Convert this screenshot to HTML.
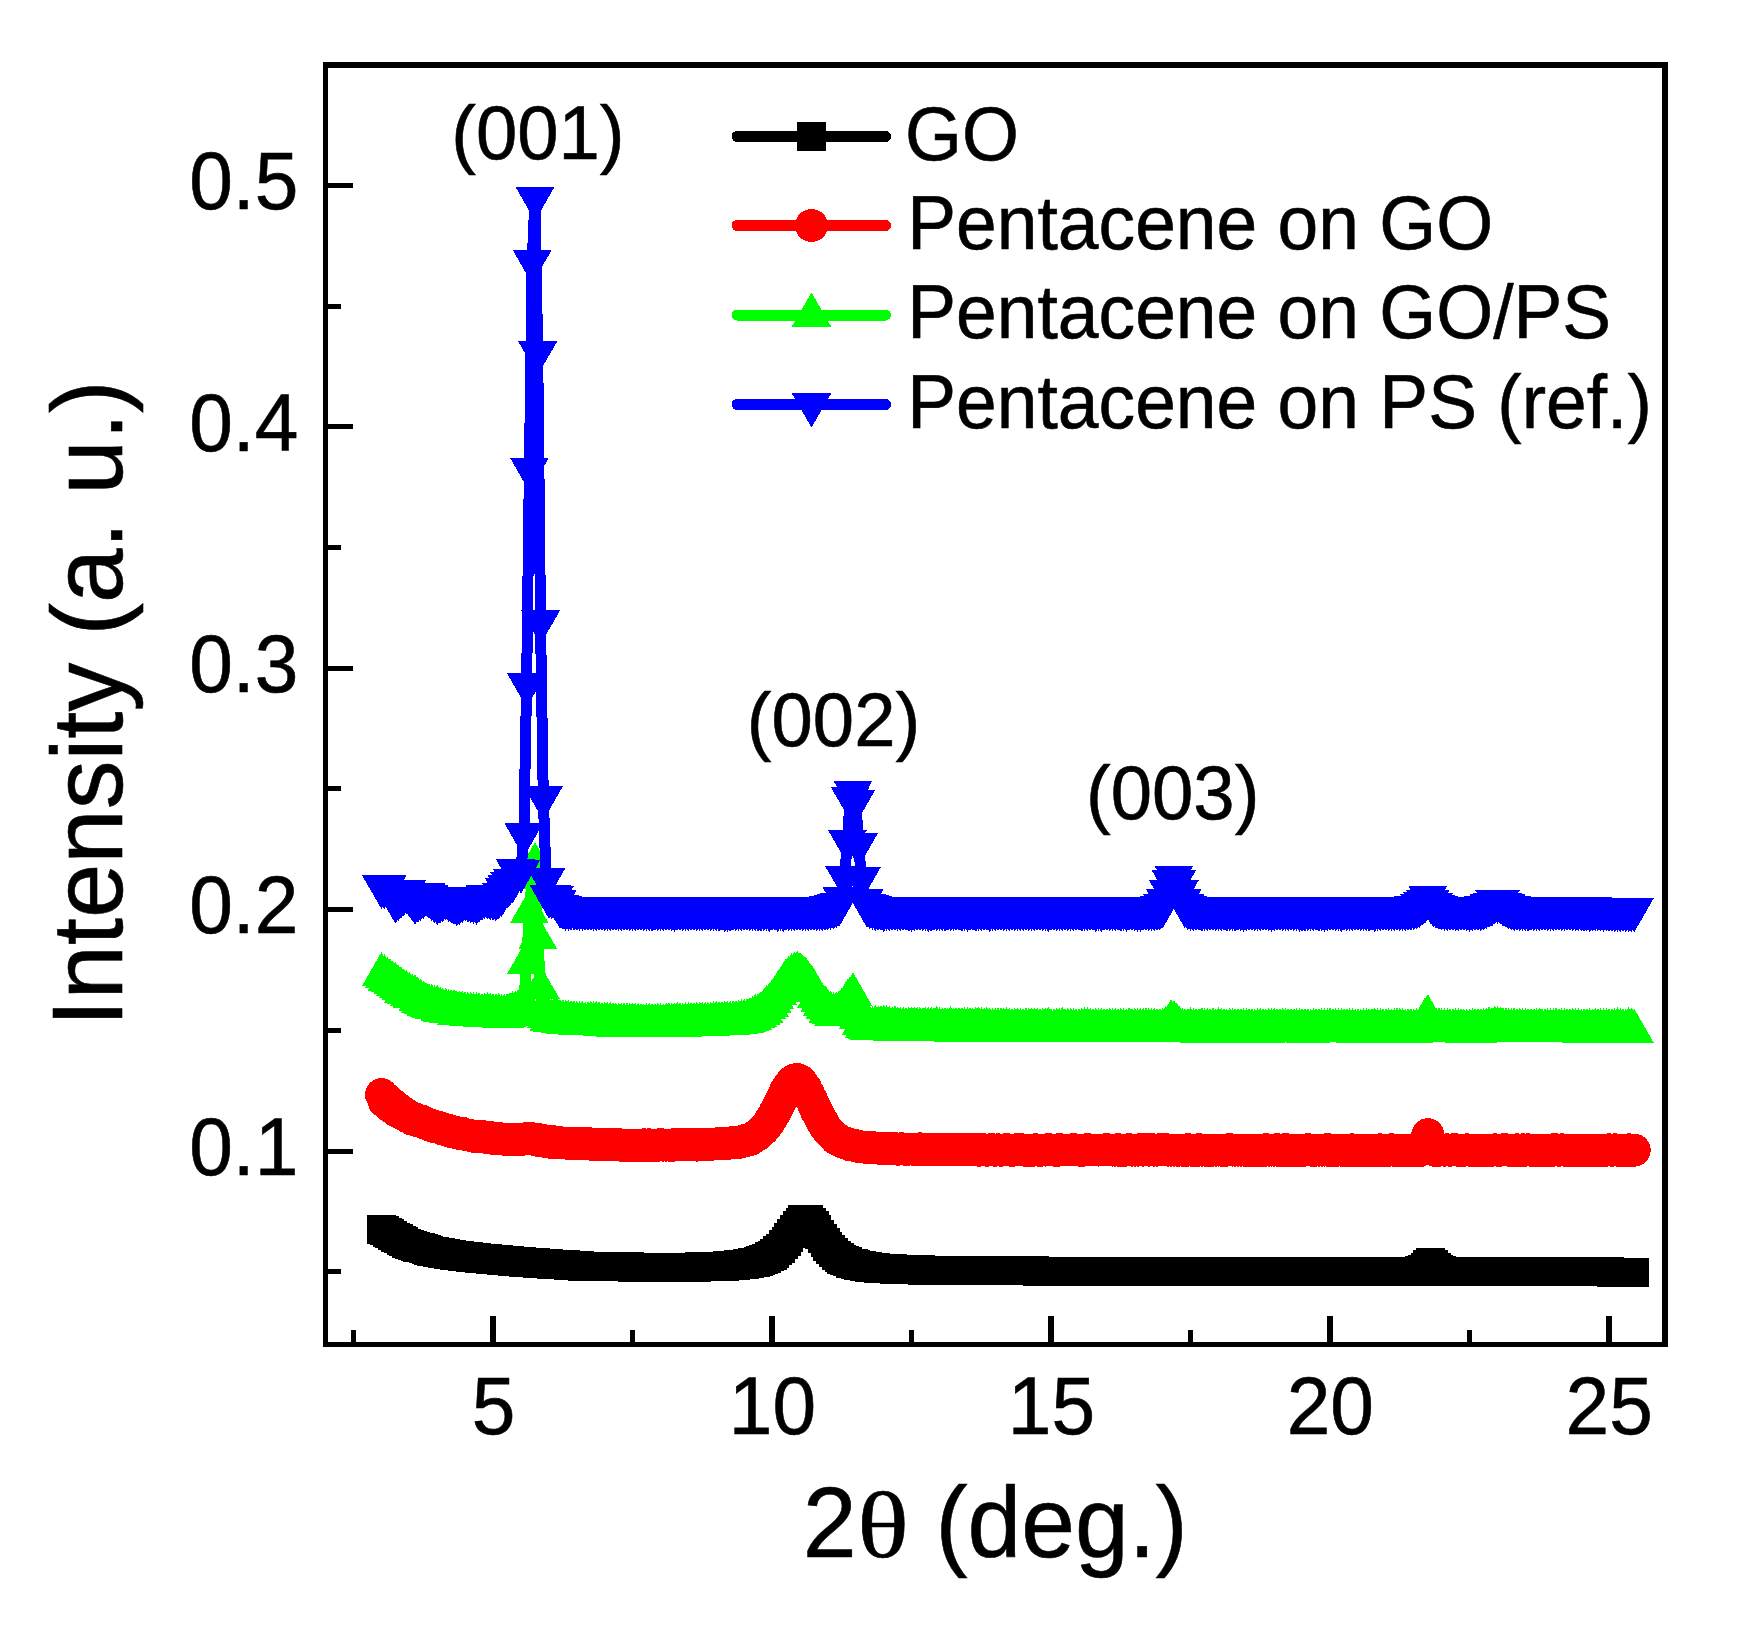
<!DOCTYPE html>
<html><head><meta charset="utf-8"><title>XRD</title>
<style>html,body{margin:0;padding:0;background:#fff}svg{display:block}</style></head>
<body>
<svg width="1750" height="1628" viewBox="0 0 1750 1628">
<defs>
<marker id="mk" markerUnits="userSpaceOnUse" markerWidth="29" markerHeight="29" refX="14.5" refY="14.5" orient="0"><rect width="29" height="29" fill="#000" shape-rendering="crispEdges"/></marker>
<marker id="mr" markerUnits="userSpaceOnUse" markerWidth="33.0" markerHeight="33.0" refX="16.5" refY="16.5" orient="0"><circle cx="16.5" cy="16.5" r="16.5" fill="#f00" shape-rendering="crispEdges"/></marker>
<marker id="mg" markerUnits="userSpaceOnUse" markerWidth="39" markerHeight="34" refX="19.5" refY="22.67" orient="0"><path d="M0 34L19.5 0L39 34Z" fill="#0f0" shape-rendering="crispEdges"/></marker>
<marker id="mb" markerUnits="userSpaceOnUse" markerWidth="39" markerHeight="34" refX="19.5" refY="11.33" orient="0"><path d="M0 0L39 0L19.5 34Z" fill="#00f" shape-rendering="crispEdges"/></marker>
</defs>
<rect width="1750" height="1628" fill="#fff"/>
<g fill="none" stroke-linejoin="round" stroke-linecap="round" shape-rendering="crispEdges" stroke-width="11">
<polyline points="381.5,1229.9 384.3,1230.8 387.1,1232.4 389.9,1233.9 392.7,1235.5 395.4,1237.0 398.2,1238.5 401.0,1240.0 403.8,1241.5 406.6,1243.0 409.4,1244.5 412.2,1245.4 415.0,1246.3 417.8,1247.1 420.6,1247.9 423.4,1248.8 426.1,1249.6 428.9,1250.4 431.7,1251.1 434.5,1251.6 437.3,1252.1 440.1,1252.6 442.9,1253.2 445.7,1253.7 448.5,1254.2 451.2,1254.7 454.0,1255.2 456.8,1255.5 459.6,1255.9 462.4,1256.2 465.2,1256.5 468.0,1256.9 470.8,1257.2 473.6,1257.6 476.4,1257.8 479.1,1258.1 481.9,1258.3 484.7,1258.6 487.5,1258.8 490.3,1259.1 493.1,1259.3 495.9,1259.6 498.7,1259.8 501.5,1260.1 504.3,1260.3 507.1,1260.6 509.8,1260.8 512.6,1261.1 515.4,1261.3 518.2,1261.6 521.0,1261.8 523.8,1262.1 526.6,1262.3 529.4,1262.5 532.2,1262.7 535.0,1262.8 537.7,1263.0 540.5,1263.2 543.3,1263.4 546.1,1263.6 548.9,1263.8 551.7,1264.0 554.5,1264.2 557.3,1264.4 560.1,1264.6 562.9,1264.7 565.6,1264.9 568.4,1265.1 571.2,1265.3 574.0,1265.5 576.8,1265.7 579.6,1265.9 582.4,1266.1 585.2,1266.2 588.0,1266.4 590.8,1266.5 593.5,1266.6 596.3,1266.6 599.1,1266.6 601.9,1266.7 604.7,1266.7 607.5,1266.7 610.3,1266.7 613.1,1266.8 615.9,1266.8 618.6,1266.8 621.4,1266.9 624.2,1266.9 627.0,1266.9 629.8,1266.9 632.6,1267.0 635.4,1267.0 638.2,1267.0 641.0,1267.0 643.8,1267.1 646.5,1267.1 649.3,1267.1 652.1,1267.1 654.9,1267.1 657.7,1267.1 660.5,1267.2 663.3,1267.2 666.1,1267.2 668.9,1267.2 671.7,1267.2 674.5,1267.2 677.2,1267.2 680.0,1267.2 682.8,1267.2 685.6,1267.2 688.4,1267.2 691.2,1267.1 694.0,1267.1 696.8,1267.0 699.6,1266.9 702.4,1266.9 705.1,1266.8 707.9,1266.7 710.7,1266.6 713.5,1266.5 716.3,1266.4 719.1,1266.3 721.9,1266.1 724.7,1266.0 727.5,1265.8 730.2,1265.6 733.0,1265.4 735.8,1265.2 738.6,1264.9 741.4,1264.6 744.2,1264.3 747.0,1263.9 749.8,1263.4 752.6,1262.9 755.4,1262.2 758.1,1261.5 760.9,1260.6 763.7,1259.6 766.5,1258.4 769.3,1256.9 772.1,1255.2 774.9,1253.1 777.7,1250.8 780.5,1248.0 783.3,1244.8 786.0,1241.3 788.8,1237.4 791.6,1233.3 794.4,1229.1 797.2,1225.2 800.0,1222.0 802.8,1219.7 805.6,1219.0 808.4,1219.8 811.2,1222.1 814.0,1225.5 816.7,1229.6 819.5,1234.0 822.3,1238.3 825.1,1242.4 827.9,1246.2 830.7,1249.5 833.5,1252.5 836.3,1255.0 839.1,1257.2 841.9,1259.0 844.6,1260.6 847.4,1261.9 850.2,1263.0 853.0,1263.9 855.8,1264.7 858.6,1265.3 861.4,1265.9 864.2,1266.3 867.0,1266.8 869.8,1267.1 872.5,1267.4 875.3,1267.7 878.1,1268.0 880.9,1268.2 883.7,1268.4 886.5,1268.6 889.3,1268.8 892.1,1268.9 894.9,1269.1 897.6,1269.2 900.4,1269.3 903.2,1269.4 906.0,1269.5 908.8,1269.6 911.6,1269.7 914.4,1269.8 917.2,1269.8 920.0,1269.9 922.8,1270.0 925.5,1270.0 928.3,1270.1 931.1,1270.1 933.9,1270.2 936.7,1270.2 939.5,1270.3 942.3,1270.3 945.1,1270.4 947.9,1270.4 950.7,1270.4 953.5,1270.5 956.2,1270.5 959.0,1270.5 961.8,1270.5 964.6,1270.6 967.4,1270.6 970.2,1270.6 973.0,1270.6 975.8,1270.7 978.6,1270.7 981.4,1270.7 984.1,1270.7 986.9,1270.7 989.7,1270.7 992.5,1270.8 995.3,1270.8 998.1,1270.8 1000.9,1270.8 1003.7,1270.8 1006.5,1270.8 1009.2,1270.8 1012.0,1270.9 1014.8,1270.9 1017.6,1270.9 1020.4,1270.9 1023.2,1270.9 1026.0,1270.9 1028.8,1270.9 1031.6,1270.9 1034.4,1270.9 1037.2,1271.0 1039.9,1271.0 1042.7,1271.0 1045.5,1271.0 1048.3,1271.0 1051.1,1271.0 1053.9,1271.0 1056.7,1271.0 1059.5,1271.0 1062.3,1271.0 1065.0,1271.0 1067.8,1271.0 1070.6,1271.0 1073.4,1271.0 1076.2,1271.0 1079.0,1271.0 1081.8,1271.1 1084.6,1271.1 1087.4,1271.1 1090.2,1271.1 1093.0,1271.1 1095.7,1271.1 1098.5,1271.1 1101.3,1271.1 1104.1,1271.1 1106.9,1271.1 1109.7,1271.1 1112.5,1271.1 1115.3,1271.1 1118.1,1271.1 1120.8,1271.1 1123.6,1271.1 1126.4,1271.1 1129.2,1271.1 1132.0,1271.1 1134.8,1271.1 1137.6,1271.1 1140.4,1271.1 1143.2,1271.1 1146.0,1271.1 1148.8,1271.1 1151.5,1271.1 1154.3,1271.1 1157.1,1271.1 1159.9,1271.2 1162.7,1271.2 1165.5,1271.2 1168.3,1271.2 1171.1,1271.2 1173.9,1271.2 1176.7,1271.2 1179.4,1271.2 1182.2,1271.2 1185.0,1271.2 1187.8,1271.2 1190.6,1271.2 1193.4,1271.2 1196.2,1271.2 1199.0,1271.2 1201.8,1271.2 1204.5,1271.2 1207.3,1271.2 1210.1,1271.2 1212.9,1271.2 1215.7,1271.2 1218.5,1271.2 1221.3,1271.2 1224.1,1271.2 1226.9,1271.2 1229.7,1271.2 1232.5,1271.2 1235.2,1271.2 1238.0,1271.2 1240.8,1271.2 1243.6,1271.2 1246.4,1271.2 1249.2,1271.2 1252.0,1271.2 1254.8,1271.2 1257.6,1271.2 1260.3,1271.2 1263.1,1271.2 1265.9,1271.2 1268.7,1271.2 1271.5,1271.2 1274.3,1271.2 1277.1,1271.2 1279.9,1271.2 1282.7,1271.2 1285.5,1271.2 1288.2,1271.2 1291.0,1271.2 1293.8,1271.2 1296.6,1271.2 1299.4,1271.2 1302.2,1271.2 1305.0,1271.2 1307.8,1271.2 1310.6,1271.2 1313.4,1271.2 1316.2,1271.2 1318.9,1271.2 1321.7,1271.2 1324.5,1271.2 1327.3,1271.2 1330.1,1271.2 1332.9,1271.2 1335.7,1271.2 1338.5,1271.2 1341.3,1271.2 1344.1,1271.2 1346.8,1271.2 1349.6,1271.2 1352.4,1271.2 1355.2,1271.2 1358.0,1271.2 1360.8,1271.2 1363.6,1271.2 1366.4,1271.2 1369.2,1271.2 1372.0,1271.2 1374.7,1271.2 1377.5,1271.2 1380.3,1271.2 1383.1,1271.2 1385.9,1271.2 1388.7,1271.2 1391.5,1271.2 1394.3,1271.2 1397.1,1271.2 1399.8,1271.2 1402.6,1271.2 1405.4,1271.2 1408.2,1271.2 1411.0,1271.2 1413.8,1271.2 1416.6,1271.2 1419.4,1270.4 1422.2,1269.8 1425.0,1267.8 1427.8,1264.8 1430.5,1262.8 1433.3,1264.8 1436.1,1267.8 1438.9,1269.8 1441.7,1270.5 1444.5,1271.3 1447.3,1271.3 1450.1,1271.3 1452.9,1271.3 1455.7,1271.3 1458.4,1271.3 1461.2,1271.3 1464.0,1271.3 1466.8,1271.3 1469.6,1271.3 1472.4,1271.3 1475.2,1271.3 1478.0,1271.3 1480.8,1271.3 1483.5,1271.3 1486.3,1271.3 1489.1,1271.3 1491.9,1271.3 1494.7,1271.3 1497.5,1271.3 1500.3,1271.3 1503.1,1271.3 1505.9,1271.3 1508.7,1271.3 1511.5,1271.3 1514.2,1271.3 1517.0,1271.3 1519.8,1271.3 1522.6,1271.3 1525.4,1271.3 1528.2,1271.3 1531.0,1271.3 1533.8,1271.3 1536.6,1271.3 1539.3,1271.3 1542.1,1271.3 1544.9,1271.3 1547.7,1271.3 1550.5,1271.3 1553.3,1271.3 1556.1,1271.3 1558.9,1271.3 1561.7,1271.3 1564.5,1271.3 1567.2,1271.3 1570.0,1271.3 1572.8,1271.3 1575.6,1271.3 1578.4,1271.3 1581.2,1271.3 1584.0,1271.3 1586.8,1271.3 1589.6,1271.3 1592.4,1271.3 1595.2,1271.3 1597.9,1271.3 1600.7,1271.3 1603.5,1271.3 1606.3,1271.3 1609.1,1271.3 1611.9,1272.1 1614.7,1272.1 1617.5,1272.1 1620.3,1272.1 1623.0,1272.1 1625.8,1272.1 1628.6,1272.1 1631.4,1272.1 1634.2,1272.1" stroke="#000" marker-start="url(#mk)" marker-mid="url(#mk)" marker-end="url(#mk)"/>
<polyline points="381.5,1094.7 384.3,1101.5 387.1,1099.5 389.9,1106.1 392.7,1104.6 395.4,1110.2 398.2,1108.8 401.0,1113.2 403.8,1112.8 406.6,1116.2 409.4,1116.4 412.2,1119.1 415.0,1118.9 417.8,1120.9 420.6,1120.8 423.4,1122.3 426.1,1123.6 428.9,1124.7 431.7,1125.5 434.5,1126.7 437.3,1126.8 440.1,1128.0 442.9,1129.2 445.7,1129.7 448.5,1130.4 451.2,1131.5 454.0,1131.8 456.8,1132.8 459.6,1133.5 462.4,1133.4 465.2,1134.4 468.0,1135.1 470.8,1135.6 473.6,1136.3 476.4,1136.2 479.1,1136.5 481.9,1136.4 484.7,1137.1 487.5,1137.8 490.3,1137.7 493.1,1138.4 495.9,1138.3 498.7,1139.0 501.5,1138.9 504.3,1139.2 507.1,1139.7 509.8,1139.7 512.6,1139.3 515.4,1139.3 518.2,1139.2 521.0,1139.6 523.8,1138.9 526.6,1138.8 529.4,1138.1 532.2,1139.1 535.0,1139.4 537.7,1139.5 540.5,1140.9 543.3,1140.7 546.1,1141.6 548.9,1141.4 551.7,1142.4 554.5,1141.9 557.3,1142.5 560.1,1142.7 562.9,1143.0 565.6,1143.1 568.4,1143.2 571.2,1143.3 574.0,1143.8 576.8,1143.5 579.6,1144.0 582.4,1143.3 585.2,1143.9 588.0,1143.6 590.8,1144.1 593.5,1144.6 596.3,1144.3 599.1,1144.4 601.9,1144.9 604.7,1144.2 607.5,1144.7 610.3,1144.8 613.1,1144.9 615.9,1144.6 618.6,1144.7 621.4,1145.2 624.2,1145.2 627.0,1145.6 629.8,1145.6 632.6,1145.2 635.4,1145.2 638.2,1145.2 641.0,1145.6 643.8,1144.8 646.5,1145.6 649.3,1144.8 652.1,1145.2 654.9,1145.2 657.7,1145.2 660.5,1144.7 663.3,1145.1 666.1,1145.1 668.9,1145.1 671.7,1145.5 674.5,1144.6 677.2,1145.0 680.0,1144.6 682.8,1145.0 685.6,1144.9 688.4,1144.5 691.2,1144.8 694.0,1144.8 696.8,1145.1 699.6,1144.6 702.4,1144.1 705.1,1144.5 707.9,1144.4 710.7,1144.3 713.5,1144.1 716.3,1144.0 719.1,1143.5 721.9,1143.3 724.7,1143.1 727.5,1143.3 730.2,1143.1 733.0,1142.4 735.8,1142.1 738.6,1142.5 741.4,1141.6 744.2,1141.0 747.0,1139.8 749.8,1139.6 752.6,1137.9 755.4,1136.0 758.1,1134.4 760.9,1131.6 763.7,1129.2 766.5,1125.8 769.3,1121.8 772.1,1117.3 774.9,1112.4 777.7,1107.0 780.5,1101.4 783.3,1095.8 786.0,1090.1 788.8,1086.2 791.6,1082.1 794.4,1080.0 797.2,1079.5 800.0,1080.9 802.8,1083.9 805.6,1087.9 808.4,1093.9 811.2,1099.3 814.0,1105.6 816.7,1111.4 819.5,1116.5 822.3,1121.6 825.1,1126.5 827.9,1130.4 830.7,1133.4 833.5,1135.8 836.3,1139.0 839.1,1140.1 841.9,1141.6 844.6,1142.8 847.4,1143.8 850.2,1145.0 853.0,1145.2 855.8,1145.7 858.6,1146.5 861.4,1146.8 864.2,1147.1 867.0,1147.4 869.8,1147.2 872.5,1147.8 875.3,1147.9 878.1,1148.1 880.9,1148.6 883.7,1148.3 886.5,1148.4 889.3,1148.5 892.1,1149.0 894.9,1148.7 897.6,1149.2 900.4,1148.9 903.2,1148.9 906.0,1149.4 908.8,1149.1 911.6,1149.1 914.4,1149.2 917.2,1149.6 920.0,1148.8 922.8,1149.3 925.5,1149.3 928.3,1149.4 931.1,1149.8 933.9,1149.4 936.7,1149.1 939.5,1149.5 942.3,1149.5 945.1,1149.1 947.9,1149.2 950.7,1149.2 953.5,1149.2 956.2,1149.6 959.0,1149.6 961.8,1149.7 964.6,1149.7 967.4,1149.7 970.2,1149.7 973.0,1149.3 975.8,1149.7 978.6,1150.2 981.4,1149.8 984.1,1149.8 986.9,1150.2 989.7,1149.8 992.5,1149.8 995.3,1150.2 998.1,1149.8 1000.9,1150.2 1003.7,1149.9 1006.5,1149.9 1009.2,1149.9 1012.0,1150.3 1014.8,1149.9 1017.6,1149.9 1020.4,1149.9 1023.2,1149.9 1026.0,1150.3 1028.8,1150.3 1031.6,1150.3 1034.4,1149.9 1037.2,1149.9 1039.9,1150.3 1042.7,1150.0 1045.5,1150.0 1048.3,1149.6 1051.1,1150.0 1053.9,1150.0 1056.7,1150.4 1059.5,1149.6 1062.3,1150.0 1065.0,1150.0 1067.8,1150.0 1070.6,1150.0 1073.4,1149.6 1076.2,1150.0 1079.0,1150.0 1081.8,1150.4 1084.6,1150.0 1087.4,1149.6 1090.2,1150.0 1093.0,1150.0 1095.7,1150.0 1098.5,1150.0 1101.3,1150.0 1104.1,1150.0 1106.9,1149.6 1109.7,1150.0 1112.5,1150.1 1115.3,1150.1 1118.1,1149.7 1120.8,1150.5 1123.6,1150.5 1126.4,1150.1 1129.2,1149.7 1132.0,1150.1 1134.8,1150.1 1137.6,1150.1 1140.4,1149.7 1143.2,1150.1 1146.0,1149.7 1148.8,1150.1 1151.5,1149.7 1154.3,1150.1 1157.1,1150.1 1159.9,1149.7 1162.7,1149.7 1165.5,1149.7 1168.3,1150.1 1171.1,1150.1 1173.9,1150.1 1176.7,1150.1 1179.4,1150.1 1182.2,1150.1 1185.0,1150.5 1187.8,1149.7 1190.6,1150.1 1193.4,1150.5 1196.2,1150.5 1199.0,1149.7 1201.8,1150.1 1204.5,1150.1 1207.3,1150.5 1210.1,1150.5 1212.9,1150.1 1215.7,1150.1 1218.5,1150.1 1221.3,1150.1 1224.1,1150.5 1226.9,1150.1 1229.7,1149.7 1232.5,1150.1 1235.2,1150.1 1238.0,1150.1 1240.8,1150.1 1243.6,1150.1 1246.4,1150.1 1249.2,1150.5 1252.0,1150.1 1254.8,1150.5 1257.6,1150.1 1260.3,1150.1 1263.1,1150.5 1265.9,1149.7 1268.7,1150.1 1271.5,1150.1 1274.3,1150.1 1277.1,1149.7 1279.9,1150.5 1282.7,1150.5 1285.5,1149.7 1288.2,1150.5 1291.0,1150.1 1293.8,1150.5 1296.6,1150.1 1299.4,1150.5 1302.2,1150.5 1305.0,1150.1 1307.8,1149.7 1310.6,1150.1 1313.4,1150.5 1316.2,1150.1 1318.9,1150.1 1321.7,1150.1 1324.5,1150.1 1327.3,1149.7 1330.1,1150.5 1332.9,1150.1 1335.7,1150.5 1338.5,1150.1 1341.3,1150.1 1344.1,1150.6 1346.8,1150.6 1349.6,1150.6 1352.4,1149.8 1355.2,1150.2 1358.0,1150.6 1360.8,1150.2 1363.6,1150.2 1366.4,1150.2 1369.2,1150.2 1372.0,1150.2 1374.7,1150.2 1377.5,1150.6 1380.3,1149.8 1383.1,1150.6 1385.9,1150.2 1388.7,1150.2 1391.5,1149.8 1394.3,1150.2 1397.1,1150.6 1399.8,1150.6 1402.6,1150.6 1405.4,1150.6 1408.2,1150.2 1411.0,1150.2 1413.8,1149.8 1416.6,1150.6 1419.4,1150.6 1422.2,1148.3 1425.0,1146.6 1427.8,1134.7 1430.5,1146.6 1433.3,1148.7 1436.1,1150.6 1438.9,1150.2 1441.7,1149.8 1444.5,1150.2 1447.3,1149.8 1450.1,1150.2 1452.9,1149.8 1455.7,1149.8 1458.4,1150.2 1461.2,1150.2 1464.0,1150.2 1466.8,1149.8 1469.6,1150.2 1472.4,1150.2 1475.2,1150.2 1478.0,1150.2 1480.8,1150.2 1483.5,1150.2 1486.3,1150.2 1489.1,1150.2 1491.9,1150.2 1494.7,1149.8 1497.5,1150.2 1500.3,1150.2 1503.1,1149.8 1505.9,1149.8 1508.7,1150.2 1511.5,1150.2 1514.2,1150.2 1517.0,1149.8 1519.8,1150.6 1522.6,1149.8 1525.4,1150.2 1528.2,1149.8 1531.0,1150.2 1533.8,1150.2 1536.6,1150.2 1539.3,1150.2 1542.1,1150.2 1544.9,1150.2 1547.7,1150.2 1550.5,1150.6 1553.3,1149.8 1556.1,1149.8 1558.9,1150.2 1561.7,1149.8 1564.5,1150.2 1567.2,1150.6 1570.0,1150.6 1572.8,1150.2 1575.6,1150.6 1578.4,1150.2 1581.2,1150.2 1584.0,1150.2 1586.8,1150.2 1589.6,1150.2 1592.4,1150.2 1595.2,1150.2 1597.9,1150.2 1600.7,1150.2 1603.5,1150.2 1606.3,1150.2 1609.1,1149.8 1611.9,1150.2 1614.7,1149.8 1617.5,1150.2 1620.3,1150.6 1623.0,1150.6 1625.8,1150.6 1628.6,1149.8 1631.4,1150.2 1634.2,1150.2" stroke="#f00" marker-start="url(#mr)" marker-mid="url(#mr)" marker-end="url(#mr)"/>
<polyline points="381.5,974.7 384.3,976.8 387.1,979.3 389.9,980.8 392.7,982.9 395.4,984.9 398.2,986.9 401.0,988.8 403.8,991.2 406.6,992.6 409.4,994.5 412.2,996.3 415.0,997.1 417.8,999.6 420.6,1001.3 423.4,1003.0 426.1,1004.7 428.9,1005.8 431.7,1006.7 434.5,1007.6 437.3,1007.7 440.1,1009.3 442.9,1010.2 445.7,1010.3 448.5,1011.6 451.2,1011.9 454.0,1011.5 456.8,1013.2 459.6,1013.1 462.4,1013.5 465.2,1013.9 468.0,1014.3 470.8,1014.6 473.6,1014.8 476.4,1014.9 479.1,1015.1 481.9,1015.7 484.7,1015.4 487.5,1014.7 490.3,1015.6 493.1,1015.8 495.9,1015.9 498.7,1015.2 501.5,1016.7 504.3,1016.2 507.1,1015.5 509.8,1014.7 512.6,1014.0 515.4,1013.1 518.2,1011.7 521.0,1010.4 523.8,1003.0 526.6,962.4 529.4,912.1 532.2,878.0 535.0,864.7 537.7,937.8 540.5,988.0 543.3,1010.0 546.1,1017.0 548.9,1019.8 551.7,1020.9 554.5,1020.1 557.3,1020.7 560.1,1022.0 562.9,1021.5 565.6,1022.5 568.4,1022.6 571.2,1022.8 574.0,1022.9 576.8,1023.6 579.6,1023.8 582.4,1023.4 585.2,1024.1 588.0,1023.7 590.8,1023.1 593.5,1024.0 596.3,1023.2 599.1,1024.1 601.9,1024.7 604.7,1024.3 607.5,1024.4 610.3,1024.5 613.1,1024.6 615.9,1025.2 618.6,1025.3 621.4,1025.3 624.2,1024.9 627.0,1025.0 629.8,1025.1 632.6,1025.2 635.4,1025.3 638.2,1025.3 641.0,1025.4 643.8,1026.0 646.5,1026.1 649.3,1025.7 652.1,1025.6 654.9,1025.6 657.7,1025.5 660.5,1025.5 663.3,1025.9 666.1,1025.4 668.9,1024.5 671.7,1025.7 674.5,1025.2 677.2,1024.3 680.0,1025.0 682.8,1025.5 685.6,1024.9 688.4,1024.8 691.2,1024.7 694.0,1024.7 696.8,1024.6 699.6,1024.5 702.4,1024.4 705.1,1024.3 707.9,1024.3 710.7,1024.2 713.5,1024.1 716.3,1023.2 719.1,1023.9 721.9,1023.7 724.7,1023.6 727.5,1023.4 730.2,1023.2 733.0,1023.0 735.8,1022.7 738.6,1022.4 741.4,1021.9 744.2,1021.3 747.0,1020.6 749.8,1019.7 752.6,1018.6 755.4,1016.5 758.1,1016.1 760.9,1013.6 763.7,1011.2 766.5,1007.6 769.3,1005.2 772.1,1001.7 774.9,997.8 777.7,993.8 780.5,989.6 783.3,985.4 786.0,980.8 788.8,978.2 791.6,975.6 794.4,974.0 797.2,973.6 800.0,974.5 802.8,977.0 805.6,979.5 808.4,983.3 811.2,986.7 814.0,991.1 816.7,996.3 819.5,1001.1 822.3,1005.1 825.1,1007.5 827.9,1011.7 830.7,1013.1 833.5,1014.6 836.3,1014.2 839.1,1013.0 841.9,1010.4 844.6,1007.1 847.4,1001.7 850.2,998.8 853.0,994.9 855.8,1004.4 858.6,1017.3 861.4,1023.3 864.2,1026.9 867.0,1027.6 869.8,1028.3 872.5,1028.5 875.3,1027.3 878.1,1028.2 880.9,1027.6 883.7,1027.7 886.5,1027.8 889.3,1028.6 892.1,1029.2 894.9,1028.0 897.6,1029.4 900.4,1029.4 903.2,1029.5 906.0,1029.5 908.8,1029.1 911.6,1029.1 914.4,1029.2 917.2,1029.2 920.0,1029.3 922.8,1029.8 925.5,1029.4 928.3,1029.4 931.1,1029.4 933.9,1029.5 936.7,1028.7 939.5,1029.5 942.3,1030.0 945.1,1029.6 947.9,1030.1 950.7,1028.8 953.5,1030.2 956.2,1029.7 959.0,1029.7 961.8,1029.7 964.6,1029.8 967.4,1029.8 970.2,1029.8 973.0,1030.3 975.8,1029.0 978.6,1029.1 981.4,1029.9 984.1,1030.4 986.9,1029.1 989.7,1030.0 992.5,1030.5 995.3,1030.5 998.1,1030.0 1000.9,1030.0 1003.7,1030.1 1006.5,1030.1 1009.2,1030.1 1012.0,1030.6 1014.8,1030.1 1017.6,1030.1 1020.4,1030.7 1023.2,1030.7 1026.0,1030.2 1028.8,1030.2 1031.6,1030.2 1034.4,1030.2 1037.2,1030.3 1039.9,1030.8 1042.7,1030.3 1045.5,1030.3 1048.3,1029.5 1051.1,1030.8 1053.9,1030.8 1056.7,1030.4 1059.5,1030.4 1062.3,1029.6 1065.0,1030.4 1067.8,1030.4 1070.6,1030.4 1073.4,1030.9 1076.2,1030.9 1079.0,1030.9 1081.8,1030.5 1084.6,1029.7 1087.4,1029.7 1090.2,1030.5 1093.0,1030.5 1095.7,1030.5 1098.5,1030.5 1101.3,1030.5 1104.1,1030.5 1106.9,1031.0 1109.7,1030.5 1112.5,1031.1 1115.3,1030.6 1118.1,1031.1 1120.8,1030.6 1123.6,1030.6 1126.4,1031.1 1129.2,1029.8 1132.0,1030.6 1134.8,1030.6 1137.6,1030.6 1140.4,1030.6 1143.2,1030.6 1146.0,1029.8 1148.8,1030.6 1151.5,1030.6 1154.3,1030.6 1157.1,1030.6 1159.9,1030.6 1162.7,1030.3 1165.5,1029.1 1168.3,1026.1 1171.1,1022.0 1173.9,1022.6 1176.7,1025.7 1179.4,1028.9 1182.2,1030.3 1185.0,1030.6 1187.8,1030.7 1190.6,1029.9 1193.4,1030.7 1196.2,1030.7 1199.0,1031.2 1201.8,1029.9 1204.5,1030.7 1207.3,1030.7 1210.1,1030.7 1212.9,1029.9 1215.7,1031.2 1218.5,1029.9 1221.3,1030.7 1224.1,1030.7 1226.9,1031.2 1229.7,1030.7 1232.5,1030.7 1235.2,1030.7 1238.0,1030.7 1240.8,1030.7 1243.6,1030.7 1246.4,1030.7 1249.2,1030.7 1252.0,1030.7 1254.8,1031.2 1257.6,1030.7 1260.3,1030.7 1263.1,1030.7 1265.9,1031.2 1268.7,1030.7 1271.5,1030.7 1274.3,1030.7 1277.1,1030.7 1279.9,1030.7 1282.7,1030.7 1285.5,1030.7 1288.2,1030.7 1291.0,1030.7 1293.8,1030.7 1296.6,1030.7 1299.4,1030.7 1302.2,1030.7 1305.0,1031.2 1307.8,1030.8 1310.6,1031.3 1313.4,1030.8 1316.2,1030.8 1318.9,1030.8 1321.7,1030.8 1324.5,1030.8 1327.3,1030.8 1330.1,1030.0 1332.9,1030.8 1335.7,1030.8 1338.5,1030.8 1341.3,1030.8 1344.1,1030.8 1346.8,1030.8 1349.6,1030.8 1352.4,1030.8 1355.2,1031.3 1358.0,1030.8 1360.8,1031.3 1363.6,1030.8 1366.4,1030.8 1369.2,1030.8 1372.0,1030.8 1374.7,1030.0 1377.5,1030.8 1380.3,1030.8 1383.1,1030.8 1385.9,1030.8 1388.7,1030.8 1391.5,1031.3 1394.3,1030.8 1397.1,1030.0 1399.8,1030.0 1402.6,1030.8 1405.4,1031.3 1408.2,1030.8 1411.0,1030.8 1413.8,1031.3 1416.6,1030.7 1419.4,1030.2 1422.2,1026.4 1425.0,1020.2 1427.8,1016.8 1430.5,1021.6 1433.3,1028.1 1436.1,1030.4 1438.9,1029.9 1441.7,1030.8 1444.5,1030.8 1447.3,1030.8 1450.1,1030.8 1452.9,1030.8 1455.7,1030.8 1458.4,1030.8 1461.2,1030.8 1464.0,1031.3 1466.8,1031.3 1469.6,1031.3 1472.4,1030.8 1475.2,1030.8 1478.0,1031.2 1480.8,1030.7 1483.5,1030.5 1486.3,1030.2 1489.1,1029.0 1491.9,1029.7 1494.7,1028.7 1497.5,1028.6 1500.3,1028.9 1503.1,1029.9 1505.9,1029.9 1508.7,1030.4 1511.5,1030.6 1514.2,1029.9 1517.0,1030.8 1519.8,1030.0 1522.6,1030.8 1525.4,1030.8 1528.2,1030.8 1531.0,1030.8 1533.8,1030.8 1536.6,1030.8 1539.3,1030.0 1542.1,1030.8 1544.9,1030.8 1547.7,1030.8 1550.5,1030.8 1553.3,1030.8 1556.1,1030.0 1558.9,1030.8 1561.7,1030.8 1564.5,1030.8 1567.2,1030.8 1570.0,1030.8 1572.8,1030.0 1575.6,1030.8 1578.4,1030.8 1581.2,1031.3 1584.0,1030.8 1586.8,1030.8 1589.6,1030.8 1592.4,1031.3 1595.2,1030.0 1597.9,1030.8 1600.7,1030.8 1603.5,1030.8 1606.3,1030.8 1609.1,1030.8 1611.9,1030.8 1614.7,1030.8 1617.5,1030.0 1620.3,1030.8 1623.0,1030.8 1625.8,1031.3 1628.6,1030.0 1631.4,1030.0 1634.2,1031.3" stroke="#0f0" marker-start="url(#mg)" marker-mid="url(#mg)" marker-end="url(#mg)"/>
<polyline points="381.5,886.5 384.3,886.3 387.1,886.5 389.9,891.3 392.7,896.2 395.4,901.0 398.2,898.5 401.0,896.1 403.8,893.7 406.6,891.2 409.4,894.9 412.2,898.5 415.0,902.2 417.8,900.2 420.6,898.3 423.4,896.4 426.1,894.4 428.9,896.5 431.7,898.5 434.5,900.6 437.3,902.7 440.1,901.2 442.9,899.6 445.7,898.1 448.5,899.5 451.2,901.0 454.0,902.5 456.8,903.9 459.6,902.3 462.4,900.6 465.2,899.0 468.0,899.8 470.8,900.6 473.6,901.4 476.4,902.2 479.1,900.2 481.9,898.2 484.7,896.2 487.5,896.8 490.3,897.5 493.1,898.1 495.9,898.7 498.7,896.5 501.5,894.4 504.3,889.3 507.1,886.4 509.8,883.6 512.6,880.7 515.4,870.7 518.2,871.0 521.0,871.0 523.8,834.3 526.6,684.7 529.4,469.0 532.2,261.3 535.0,198.2 537.7,352.7 540.5,621.8 543.3,797.7 546.1,879.0 548.9,896.0 551.7,896.6 554.5,897.0 557.3,901.0 560.1,906.3 562.9,907.4 565.6,908.0 568.4,908.1 571.2,908.1 574.0,908.2 576.8,908.3 579.6,908.3 582.4,908.3 585.2,908.3 588.0,908.3 590.8,908.3 593.5,908.3 596.3,908.3 599.1,908.3 601.9,908.3 604.7,908.3 607.5,908.4 610.3,908.4 613.1,908.4 615.9,908.4 618.6,908.4 621.4,908.4 624.2,908.4 627.0,908.4 629.8,908.4 632.6,908.4 635.4,908.4 638.2,908.4 641.0,908.4 643.8,908.4 646.5,908.4 649.3,908.4 652.1,909.3 654.9,908.4 657.7,908.4 660.5,908.4 663.3,908.4 666.1,908.4 668.9,908.4 671.7,908.4 674.5,909.3 677.2,908.4 680.0,908.4 682.8,908.4 685.6,908.4 688.4,908.4 691.2,908.4 694.0,908.4 696.8,908.4 699.6,908.4 702.4,908.4 705.1,908.4 707.9,908.4 710.7,908.4 713.5,908.4 716.3,908.4 719.1,909.3 721.9,908.4 724.7,909.3 727.5,909.3 730.2,909.3 733.0,908.4 735.8,908.4 738.6,908.4 741.4,908.4 744.2,908.4 747.0,908.4 749.8,908.4 752.6,908.4 755.4,908.4 758.1,909.3 760.9,909.3 763.7,908.4 766.5,908.4 769.3,909.3 772.1,908.4 774.9,908.4 777.7,909.3 780.5,908.4 783.3,909.3 786.0,908.4 788.8,908.4 791.6,908.4 794.4,908.4 797.2,908.4 800.0,908.4 802.8,908.4 805.6,908.4 808.4,908.4 811.2,908.4 814.0,908.4 816.7,908.4 819.5,908.4 822.3,908.4 825.1,908.4 827.9,907.6 830.7,907.2 833.5,906.6 836.3,905.8 839.1,904.2 841.9,898.2 844.6,877.4 847.4,841.2 850.2,798.2 853.0,792.1 855.8,801.1 858.6,844.3 861.4,878.3 864.2,900.1 867.0,905.0 869.8,906.8 872.5,907.5 875.3,908.4 878.1,908.4 880.9,908.4 883.7,909.3 886.5,908.4 889.3,908.4 892.1,908.4 894.9,908.4 897.6,908.4 900.4,908.4 903.2,908.4 906.0,908.4 908.8,909.3 911.6,909.3 914.4,908.4 917.2,908.4 920.0,908.4 922.8,908.4 925.5,908.4 928.3,909.3 931.1,909.3 933.9,908.4 936.7,908.4 939.5,908.4 942.3,908.4 945.1,909.3 947.9,908.4 950.7,908.4 953.5,908.4 956.2,908.4 959.0,908.4 961.8,909.3 964.6,908.4 967.4,909.3 970.2,908.4 973.0,908.4 975.8,909.3 978.6,908.4 981.4,908.4 984.1,908.4 986.9,908.4 989.7,909.3 992.5,908.4 995.3,908.4 998.1,908.4 1000.9,908.4 1003.7,908.4 1006.5,908.4 1009.2,908.4 1012.0,908.4 1014.8,908.4 1017.6,908.4 1020.4,908.4 1023.2,908.4 1026.0,908.4 1028.8,908.4 1031.6,908.4 1034.4,908.4 1037.2,908.4 1039.9,908.4 1042.7,908.4 1045.5,908.4 1048.3,909.3 1051.1,908.4 1053.9,908.4 1056.7,908.4 1059.5,908.4 1062.3,908.4 1065.0,908.4 1067.8,908.4 1070.6,908.4 1073.4,908.4 1076.2,908.4 1079.0,908.4 1081.8,909.3 1084.6,908.4 1087.4,908.4 1090.2,908.4 1093.0,908.4 1095.7,909.3 1098.5,908.4 1101.3,909.3 1104.1,908.4 1106.9,908.4 1109.7,908.4 1112.5,908.4 1115.3,908.4 1118.1,908.4 1120.8,909.3 1123.6,908.4 1126.4,909.3 1129.2,908.4 1132.0,908.4 1134.8,908.4 1137.6,909.3 1140.4,909.3 1143.2,908.4 1146.0,908.4 1148.8,908.4 1151.5,908.4 1154.3,908.4 1157.1,908.3 1159.9,907.7 1162.7,905.7 1165.5,900.5 1168.3,891.3 1171.1,881.4 1173.9,876.9 1176.7,881.4 1179.4,891.3 1182.2,900.5 1185.0,905.7 1187.8,907.7 1190.6,908.3 1193.4,908.4 1196.2,908.4 1199.0,908.4 1201.8,909.3 1204.5,908.4 1207.3,908.4 1210.1,908.4 1212.9,908.4 1215.7,908.4 1218.5,908.4 1221.3,908.4 1224.1,908.4 1226.9,909.3 1229.7,908.4 1232.5,908.4 1235.2,909.3 1238.0,908.4 1240.8,908.4 1243.6,909.3 1246.4,908.4 1249.2,908.4 1252.0,908.4 1254.8,908.4 1257.6,908.4 1260.3,908.4 1263.1,908.4 1265.9,908.4 1268.7,908.4 1271.5,909.3 1274.3,908.4 1277.1,908.4 1279.9,908.4 1282.7,908.4 1285.5,908.4 1288.2,908.4 1291.0,908.4 1293.8,908.4 1296.6,908.4 1299.4,909.3 1302.2,909.3 1305.0,909.3 1307.8,908.4 1310.6,908.4 1313.4,908.4 1316.2,908.4 1318.9,909.3 1321.7,908.4 1324.5,909.3 1327.3,908.4 1330.1,908.4 1332.9,908.4 1335.7,908.4 1338.5,908.4 1341.3,909.3 1344.1,908.4 1346.8,908.4 1349.6,908.4 1352.4,908.4 1355.2,908.4 1358.0,908.4 1360.8,908.4 1363.6,908.4 1366.4,908.4 1369.2,909.3 1372.0,908.4 1374.7,909.3 1377.5,908.4 1380.3,908.4 1383.1,908.4 1385.9,908.4 1388.7,908.4 1391.5,908.4 1394.3,908.4 1397.1,908.4 1399.8,908.4 1402.6,908.4 1405.4,908.4 1408.2,908.4 1411.0,908.4 1413.8,907.6 1416.6,906.9 1419.4,905.4 1422.2,903.3 1425.0,900.9 1427.8,897.4 1430.5,900.9 1433.3,904.4 1436.1,906.4 1438.9,907.4 1441.7,907.9 1444.5,908.4 1447.3,908.4 1450.1,908.4 1452.9,908.4 1455.7,908.4 1458.4,908.4 1461.2,908.4 1464.0,908.4 1466.8,908.4 1469.6,909.3 1472.4,908.4 1475.2,908.4 1478.0,908.4 1480.8,908.4 1483.5,907.8 1486.3,906.9 1489.1,905.4 1491.9,904.3 1494.7,901.4 1497.5,901.3 1500.3,901.4 1503.1,904.3 1505.9,905.4 1508.7,906.9 1511.5,907.8 1514.2,908.4 1517.0,908.4 1519.8,908.4 1522.6,908.4 1525.4,908.4 1528.2,909.3 1531.0,908.4 1533.8,908.4 1536.6,908.4 1539.3,908.4 1542.1,908.4 1544.9,908.4 1547.7,908.4 1550.5,908.4 1553.3,908.4 1556.1,908.4 1558.9,908.4 1561.7,908.4 1564.5,908.4 1567.2,908.4 1570.0,908.5 1572.8,908.5 1575.6,908.5 1578.4,908.5 1581.2,908.6 1584.0,909.5 1586.8,908.7 1589.6,909.6 1592.4,908.8 1595.2,908.9 1597.9,908.9 1600.7,909.0 1603.5,909.1 1606.3,909.2 1609.1,909.3 1611.9,909.3 1614.7,909.4 1617.5,909.4 1620.3,909.5 1623.0,909.5 1625.8,909.5 1628.6,909.5 1631.4,909.6 1634.2,909.6" stroke="#00f" marker-start="url(#mb)" marker-mid="url(#mb)" marker-end="url(#mb)"/>
</g>
<g fill="#000" shape-rendering="crispEdges">
<rect x="323" y="62" width="1345" height="6"/>
<rect x="323" y="1342" width="1345" height="5"/>
<rect x="323" y="62" width="5" height="1285"/>
<rect x="1662" y="62" width="6" height="1285"/>
<rect x="490" y="1316" width="6" height="27"/>
<rect x="769" y="1316" width="6" height="27"/>
<rect x="1048" y="1316" width="6" height="27"/>
<rect x="1327" y="1316" width="6" height="27"/>
<rect x="1606" y="1316" width="6" height="27"/>
<rect x="351" y="1330" width="5" height="13"/>
<rect x="630" y="1330" width="5" height="13"/>
<rect x="909" y="1330" width="5" height="13"/>
<rect x="1188" y="1330" width="5" height="13"/>
<rect x="1467" y="1330" width="5" height="13"/>
<rect x="327" y="1149" width="26" height="5"/>
<rect x="327" y="907" width="26" height="5"/>
<rect x="327" y="666" width="26" height="5"/>
<rect x="327" y="424" width="26" height="5"/>
<rect x="327" y="183" width="26" height="5"/>
<rect x="327" y="1269" width="14" height="5"/>
<rect x="327" y="1028" width="14" height="5"/>
<rect x="327" y="786" width="14" height="5"/>
<rect x="327" y="545" width="14" height="5"/>
<rect x="327" y="304" width="14" height="5"/>
</g>
<g font-family="'Liberation Sans', sans-serif" fill="#000" stroke="#000" stroke-width="0.6">
<text transform="translate(298.3,1174.8) scale(0.9606,1)" font-size="81.72" text-anchor="end">0.1</text>
<text transform="translate(298.3,933.4) scale(0.9606,1)" font-size="81.72" text-anchor="end">0.2</text>
<text transform="translate(298.3,692.1) scale(0.9606,1)" font-size="81.72" text-anchor="end">0.3</text>
<text transform="translate(298.3,450.7) scale(0.9606,1)" font-size="81.72" text-anchor="end">0.4</text>
<text transform="translate(298.3,209.3) scale(0.9606,1)" font-size="81.72" text-anchor="end">0.5</text>
<text transform="translate(493.6,1434) scale(0.9606,1)" font-size="81.72" text-anchor="middle">5</text>
<text transform="translate(772.5,1434) scale(0.9606,1)" font-size="81.72" text-anchor="middle">10</text>
<text transform="translate(1051.4,1434) scale(0.9606,1)" font-size="81.72" text-anchor="middle">15</text>
<text transform="translate(1330.3,1434) scale(0.9606,1)" font-size="81.72" text-anchor="middle">20</text>
<text transform="translate(1609.2,1434) scale(0.9606,1)" font-size="81.72" text-anchor="middle">25</text>
<text transform="translate(451.2,159) scale(0.9721,1)" font-size="76.41" text-anchor="start">(001)</text>
<text transform="translate(746.8,745.5) scale(0.9721,1)" font-size="76.41" text-anchor="start">(002)</text>
<text transform="translate(1086,818.5) scale(0.9721,1)" font-size="76.41" text-anchor="start">(003)</text>
<text transform="translate(905,159.6) scale(0.9606,1)" font-size="76.20" text-anchor="start">GO</text>
<text transform="translate(907.3,248.9) scale(0.9606,1)" font-size="76.20" text-anchor="start">Pentacene on GO</text>
<text transform="translate(907.3,338.2) scale(0.9606,1)" font-size="76.20" text-anchor="start">Pentacene on GO/PS</text>
<text transform="translate(907.3,427.5) scale(0.9606,1)" font-size="76.20" text-anchor="start">Pentacene on PS (ref.)</text>
<text transform="translate(802.8,1557.3) scale(0.9606,1)" font-size="100.98" text-anchor="start">2</text>
<text transform="translate(857.3,1557.3) scale(1.152,1)" font-family="'Liberation Serif', serif" font-size="93.40">θ</text>
<text transform="translate(935.4,1557.3) scale(0.9568,1)" font-size="100.98" text-anchor="start">(deg.)</text>
<text transform="translate(122,703.5) rotate(-90) scale(0.9678,1)" font-size="100.98" text-anchor="middle">Intensity (a. u.)</text>
</g>
<g stroke-width="11" stroke-linecap="round" shape-rendering="crispEdges">
<line x1="737" y1="136.5" x2="885.5" y2="136.5" stroke="#000"/>
<line x1="737" y1="225.5" x2="885.5" y2="225.5" stroke="#f00"/>
<line x1="737" y1="315" x2="885.5" y2="315" stroke="#0f0"/>
<line x1="737" y1="404.5" x2="885.5" y2="404.5" stroke="#00f"/>
</g>
<g shape-rendering="crispEdges">
<rect x="797" y="122" width="29" height="29" fill="#000"/>
<circle cx="811.5" cy="225.5" r="16.5" fill="#f00"/>
<path d="M791.5 327L811.5 292.5L831.5 327Z" fill="#0f0"/>
<path d="M791.5 393L831.5 393L811.5 427.5Z" fill="#00f"/>
</g>
</svg>
</body></html>
